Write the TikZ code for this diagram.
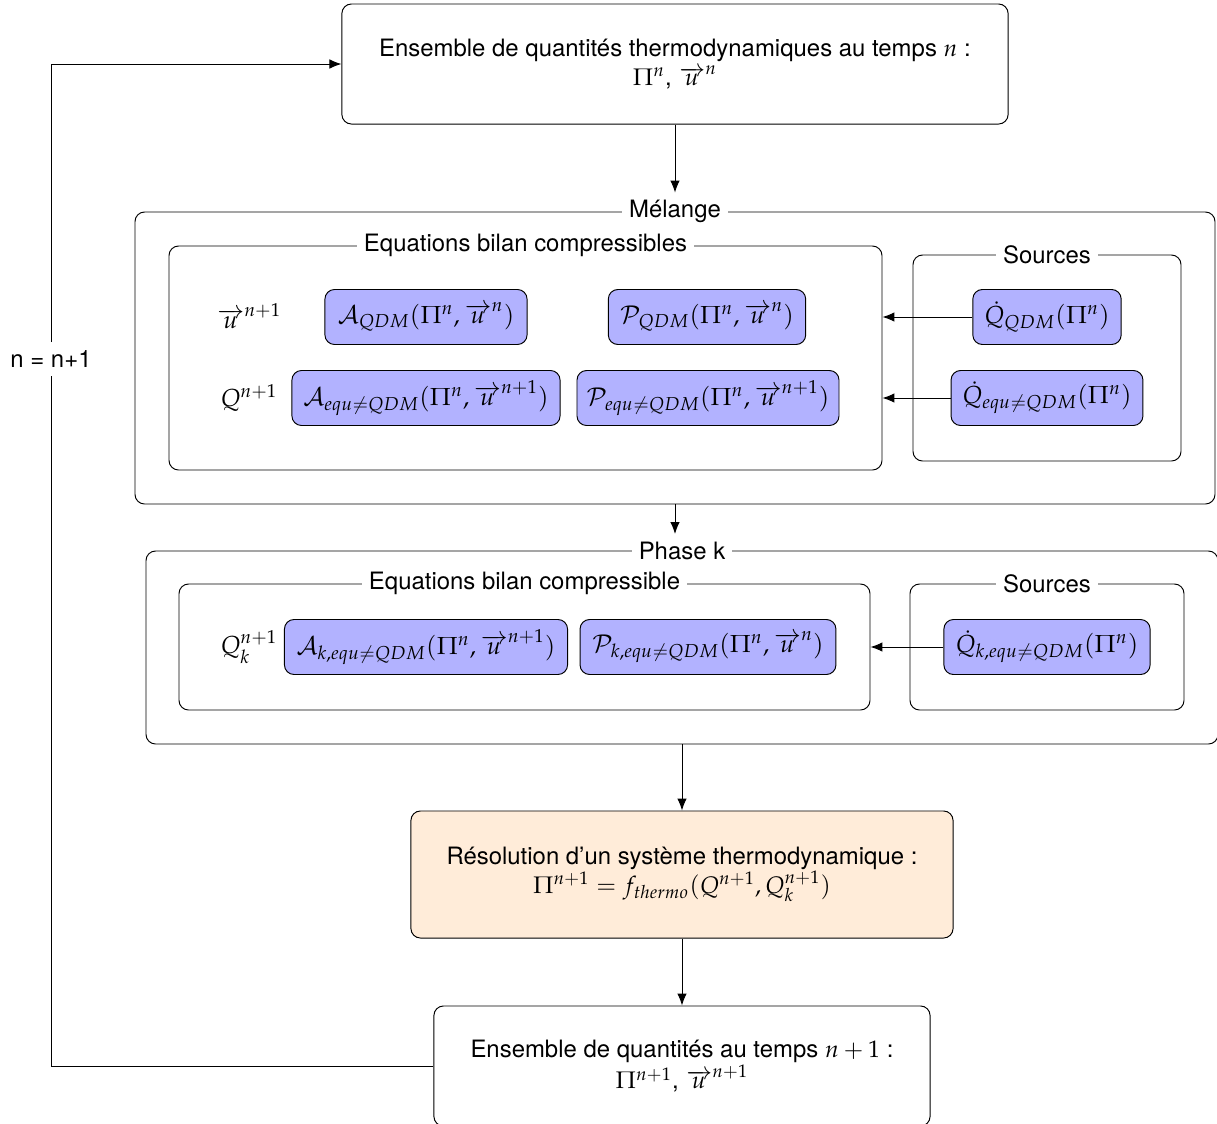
\documentclass[tikz,border=0pt]{standalone}
\usepackage{mathpazo}
\usepackage[no-math]{fontspec}
\setmainfont{TeX Gyre Heros}
\usetikzlibrary{fit,arrows.meta}

\tikzset{
	frame/.style={draw, rounded corners, inner sep=0pt},
	titl/.style={fill=white, inner sep=3pt},
	calc/.style={draw, rounded corners, fill=blue!30, font=\fontsize{10.3}{12}\selectfont, minimum height=23pt, inner xsep=2pt},
	bigbox/.style={draw, rounded corners, align=center},
	lbl/.style={font=\fontsize{10.3}{12}\selectfont, inner sep=1pt},
}

\begin{document}
\begin{tikzpicture}[x=0.0147cm, y=-0.0147cm, >={Latex[length=5pt,width=4pt]}]
	\useasboundingbox (0,0) rectangle (1217,1124);
	
	%Time n
	\node[bigbox, minimum width=9.79cm, minimum height=1.764cm] (top) at (675,64) {Ensemble de quantités thermodynamiques au temps $n$ :\\ $\Pi^n$, $\overrightarrow{u}^n$};
	
	%Mixture
	\node[frame, fit={(135,212) (1215,504)}] (melange) {};
	\node[titl] (melTitle) at (melange.north) {Mélange};
	
	\node[frame, fit={(169,246) (882,470)}] (eqm) {};
	\node[titl] (eqmTitle) at (eqm.north) {Equations bilan compressibles};
	\node[frame, fit={(913,255) (1181,461)}] (srcm) {};
	\node[titl] (srcmTitle) at (srcm.north) {Sources};
	
	\node[lbl] (um) at (249,316) {$\overrightarrow{u}^{n+1}$};
	\node[lbl] (qm) at (249,398) {$Q^{n+1}$};
	\node[calc, minimum width=2.97cm] (am) at (426,317) {$\mathcal{A}_{QDM}(\Pi^n,\overrightarrow{u}^n)$};
	\node[calc, minimum width=2.90cm] (pm) at (707,317) {$\mathcal{P}_{QDM}(\Pi^n,\overrightarrow{u}^n)$};
	\node[calc, minimum width=3.94cm] (aem) at (426,398) {$\mathcal{A}_{equ\neq QDM}(\Pi^n,\overrightarrow{u}^{n+1})$};
	\node[calc, minimum width=3.85cm] (pem) at (708,398) {$\mathcal{P}_{equ\neq QDM}(\Pi^n,\overrightarrow{u}^{n+1})$};
	\node[calc, minimum width=2.18cm] (sqm) at (1047,317) {$\dot{Q}_{QDM}(\Pi^n)$};
	\node[calc, minimum width=2.82cm] (sem) at (1047,398) {$\dot{Q}_{equ\neq QDM}(\Pi^n)$};
	
	\draw[->] (sqm.west) -- (sqm.west -| eqm.east);
	\draw[->] (sem.west) -- (sem.west -| eqm.east);
	
	%Phase k
	\node[frame, fit={(146,551) (1218,744)}] (phase) {};
	\node[titl] (phaseTitle) at (phase.north) {Phase k};
	
	\node[frame, fit={(179,584) (870,710)}] (eqk) {};
	\node[titl] (eqkTitle) at (eqk.north) {Equations bilan compressible};
	\node[frame, fit={(910,584) (1184,710)}] (srck) {};
	\node[titl] (srckTitle) at (srck.north) {Sources};
	
	\node[lbl] (qk) at (249,647) {$Q_k^{n+1}$};
	\node[calc, minimum width=4.16cm] (ak) at (426,647) {$\mathcal{A}_{k,equ\neq QDM}(\Pi^n,\overrightarrow{u}^{n+1})$};
	\node[calc, minimum width=3.76cm] (pk) at (708,647) {$\mathcal{P}_{k,equ\neq QDM}(\Pi^n,\overrightarrow{u}^n)$};
	\node[calc, minimum width=3.03cm] (sk) at (1047,647) {$\dot{Q}_{k,equ\neq QDM}(\Pi^n)$};
	
	\draw[->] (sk.west) -- (sk.west -| eqk.east);
	
	%Thermo
	\node[bigbox, fill=orange!15, minimum width=7.967cm, minimum height=1.867cm] (thermo) at (682,874.5) {Résolution d’un système thermodynamique :\\ $\Pi^{n+1} = f_{thermo}(Q^{n+1}, Q_k^{n+1})$};
	
	%Time n+1
	\node[bigbox, minimum width=7.291cm, minimum height=1.764cm] (bot) at (682,1066) {Ensemble de quantités au temps $n+1$ :\\ $\Pi^{n+1}$, $\overrightarrow{u}^{n+1}$};
	
	\node (loop) at (51,359) {n = n+1};
	
	\draw[->] (top) -- (melTitle);
	\draw[->] (melange.south) -- (melange.south |- phaseTitle.north);
	\draw[->] (phase.south) -- (thermo);
	\draw[->] (thermo) -- (bot);
	\draw (bot.west) -| (loop.south);
	\draw[->] (loop.north) |- (top.west);
\end{tikzpicture}
\end{document}
